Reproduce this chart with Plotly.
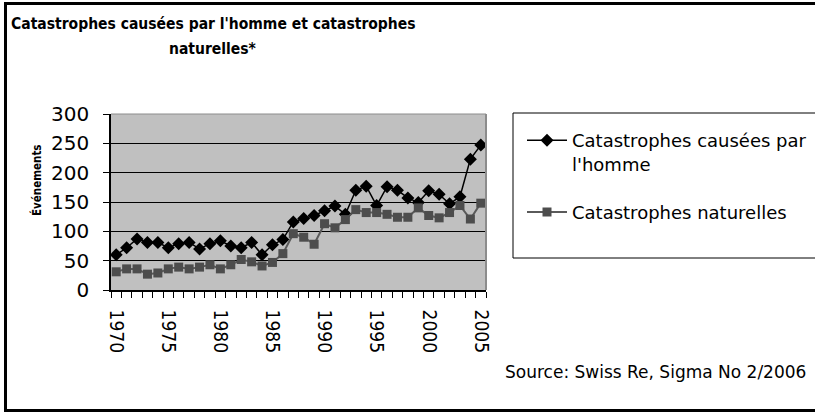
import plotly.graph_objects as go

W, H = 815, 413
OFF = 0  # body margin removed via post_script

years = list(range(1970, 2006))
man_made = [60, 72, 87, 81, 81, 72, 79, 81, 70, 79, 84, 75, 72, 81, 60, 77, 86, 116,
            122, 127, 135, 143, 129, 170, 177, 144, 176, 170, 157, 149, 169, 163, 147, 159, 223, 247]
natural = [31, 36, 36, 27, 29, 36, 39, 36, 39, 43, 36, 43, 52, 48, 41, 47, 62, 96,
           90, 78, 113, 106, 120, 137, 132, 132, 129, 124, 124, 140, 127, 123, 132, 144, 121, 148]
label_years = [1970, 1975, 1980, 1985, 1990, 1995, 2000, 2005]
y_ticks = [0, 50, 100, 150, 200, 250, 300]

title_lines = ["Catastrophes causées par l'homme et catastrophes", "naturelles*"]
series_names = ["Catastrophes causées par<br>l'homme", "Catastrophes naturelles"]
y_title = "Événements"
source_text = "Source: Swiss Re, Sigma No 2/2006"


def px(x):
    return (x - OFF) / W


def py(y):
    return 1 - (y - OFF) / H


fig = go.Figure()
fig.add_trace(go.Scatter(
    x=years, y=man_made, name=series_names[0], mode="lines+markers", legendgroup="a",
    line=dict(color="#000000", width=1.5),
    marker=dict(symbol="diamond", size=10, color="#000000"),
))
fig.add_trace(go.Scatter(
    x=years, y=natural, name=series_names[1], mode="lines+markers", legendgroup="b",
    line=dict(color="#5a5a5a", width=2),
    marker=dict(symbol="square", size=9, color="#4d4d4d"),
))

PL, PR, PT, PB = 111, 486, 114, 290
COND = "DejaVu Sans Condensed, Liberation Sans Narrow, sans-serif"
REG = "DejaVu Sans, Verdana, sans-serif"

fig.update_layout(
    width=W, height=H,
    autosize=False,
    margin=dict(l=0, r=0, t=0, b=0, pad=0),
    paper_bgcolor="#ffffff",
    plot_bgcolor="#c0c0c0",
    font=dict(family=REG, color="#000000"),
    showlegend=True,
    legend=dict(
        x=px(522), y=py(122), xanchor="left", yanchor="top",
        font=dict(family=REG, size=18, color="#000000"),
        bgcolor="rgba(0,0,0,0)", borderwidth=0,
        valign="top", tracegroupgap=22, itemwidth=40,
    ),
    xaxis=dict(
        domain=[px(PL), px(PR)], automargin=False,
        range=[years[0] - 0.5, years[-1] + 0.5],
        tickmode="array", tickvals=label_years, ticktext=[str(v) for v in label_years],
        tickangle=90, ticks="", showgrid=False, zeroline=False,
        showline=True, linecolor="#000000", linewidth=1.5,
        tickfont=dict(family=COND, size=19),
        minor=dict(tickmode="array", tickvals=[v - 0.5 for v in years] + [years[-1] + 0.5],
                   ticks="outside", ticklen=6, tickcolor="#000000", tickwidth=1, showgrid=False),
        ticklabelstandoff=14,
    ),
    yaxis=dict(
        domain=[py(PB), py(PT)], automargin=False,
        range=[0, 300],
        tickmode="array", tickvals=y_ticks,
        ticks="outside", ticklen=6, tickcolor="#000000", tickwidth=1,
        showgrid=True, gridcolor="#000000", gridwidth=1,
        zeroline=False, showline=True, linecolor="#000000", linewidth=1.5,
        tickfont=dict(family=REG, size=20),
        ticklabelstandoff=10,
    ),
    shapes=[
        dict(type="line", xref="paper", yref="paper", x0=px(PL), x1=px(PR), y0=py(PT), y1=py(PT),
             line=dict(color="#8c8c8c", width=1)),
        dict(type="line", xref="paper", yref="paper", x0=px(PR), x1=px(PR), y0=py(PT), y1=py(PB),
             line=dict(color="#8c8c8c", width=2)),
        dict(type="rect", xref="paper", yref="paper", x0=px(513), x1=px(840), y0=py(113), y1=py(258),
             line=dict(color="#000000", width=1)),
        dict(type="rect", xref="paper", yref="paper", x0=px(5.5), x1=px(840), y0=py(3.5), y1=py(410.5),
             line=dict(color="#000000", width=3)),
    ],
    annotations=[
        dict(text="<b>" + title_lines[0] + "</b>", xref="paper", yref="paper",
             x=px(213), y=py(24), xanchor="center", yanchor="middle", showarrow=False,
             font=dict(family=COND, size=15.5, color="#000000")),
        dict(text="<b>" + title_lines[1] + "</b>", xref="paper", yref="paper",
             x=px(213), y=py(49), xanchor="center", yanchor="middle", showarrow=False,
             font=dict(family=COND, size=15.5, color="#000000")),
        dict(text="<b>" + y_title + "</b>", xref="paper", yref="paper",
             x=px(36), y=py(180), xanchor="center", yanchor="middle", textangle=-90, showarrow=False,
             font=dict(family=COND, size=11.5, color="#000000")),
        dict(text=source_text, xref="paper", yref="paper",
             x=px(808), y=py(372), xanchor="right", yanchor="middle", showarrow=False,
             font=dict(family=REG, size=17, color="#000000")),
    ],
)

fig.write_html("out.html", config={"displayModeBar": False},
               post_script="document.body.style.margin='0';")
